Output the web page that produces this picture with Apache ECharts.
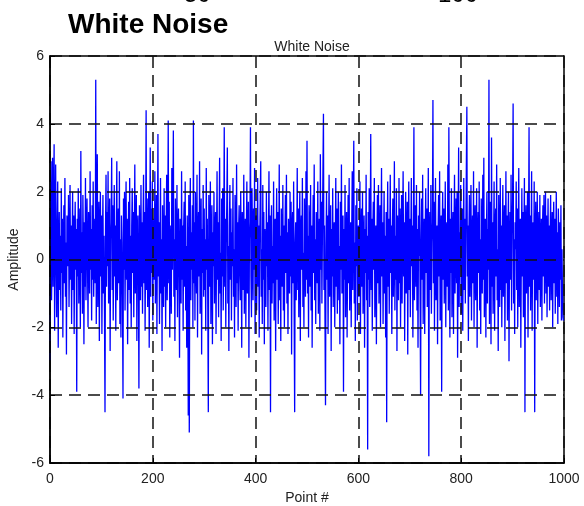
<!DOCTYPE html>
<html>
<head>
<meta charset="utf-8">
<script src="https://cdn.jsdelivr.net/npm/echarts@6/dist/echarts.min.js"></script>
<style>
  html, body { margin: 0; padding: 0; background: #fff; }
  #noise { width: 584px; height: 506px; }
</style>
</head>
<body>
<div id="noise"></div>
<script>
// amplitude of each point (points 0..999)
var amplitude = [
  -3.0, 0.6, 2.9, -1.2, 0.4, 3.0, -0.8, 1.5, 3.4, -2.1, 0.9, 2.8, -0.3, -1.7, 1.1, 2.3, -2.6, 0.2, 1.4, -0.9,
  0.7, -1.5, 2.1, -0.4, 1.2, -2.3, 0.3, 1.6, -0.7, 2.4, -1.1, 0.5, -2.8, 1.3, 0.8, -0.2, 1.9, -1.4, 0.1, 2.2,
  -0.6, 1.0, -1.9, 0.4, 2.0, -0.9, 1.3, -2.2, 0.6, 1.7, -0.3, 0.9, -3.9, 1.2, -0.5, 2.1, -1.3, 0.2, 1.5, -2.0,
  3.2, -0.4, 0.8, -1.6, 1.9, 0.3, -2.5, 1.1, -0.8, 2.4, -1.2, 0.5, 1.8, -0.1, -2.0, 1.4, 0.7, -1.0, 2.6, -0.3,
  0.9, -1.8, 1.6, -0.6, 2.3, -1.1, 0.4, 1.2, -0.7, 5.3, -1.9, 0.8, 3.1, -1.4, 0.2, 1.7, -2.4, 0.6, 2.0, -0.5,
  1.3, -2.2, 0.5, 1.9, -1.0, 0.7, -1.6, -4.5, 0.9, 2.5, -0.8, 1.4, -0.2, 2.6, -1.3, 0.3, 1.8, -2.7, 0.6, 1.1,
  3.0, -0.9, 1.6, -1.8, 0.4, 2.2, -0.5, 1.0, -2.1, 0.8, 2.9, -1.2, 0.1, 1.5, -0.7, 2.6, -1.9, 0.6, -2.3, 1.3,
  0.5, -1.1, -4.1, 1.8, -0.3, 2.0, -1.5, 0.9, 2.3, -0.6, 1.2, -2.5, 0.3, 1.7, -0.9, 2.4, -1.3, 0.7, -2.0, 1.0,
  2.1, -0.4, 1.4, -1.7, 0.6, 2.8, -1.0, 0.2, 1.9, -2.4, 0.8, 1.3, -0.5, -3.8, 1.6, 0.4, -1.2, 2.2, -0.8, 1.1,
  -1.6, 0.9, 2.5, -0.7, 1.4, -2.1, 0.3, 4.4, -0.9, 1.8, -1.4, 0.6, 2.0, -2.6, 0.2, 3.3, -1.1, 1.5, -0.4, 2.3,
  -1.8, 0.7, 1.2, -0.6, 2.6, -1.3, 0.4, 1.9, -2.2, 0.8, 3.7, -0.5, 1.1, -1.9, 0.3, 2.4, -1.0, 0.6, -2.7, 1.6,
  0.2, -1.4, 2.1, -0.8, 1.3, -2.0, 0.9, 2.5, -1.2, 0.4, 4.1, -0.7, 1.7, -2.3, 0.5, 1.0, -1.6, 2.7, -0.3, 1.4,
  3.8, -1.1, 0.6, -2.4, 1.8, 0.3, -0.9, 2.2, -1.7, 0.8, 1.5, -0.4, -2.9, 1.2, 0.7, -1.3, 2.6, -0.6, 1.0, -2.1,
  0.9, 1.7, -0.8, 2.3, -1.5, 0.4, -2.6, 1.3, 0.1, -4.6, 1.9, -5.1, 0.6, 2.4, -1.2, 0.8, -0.3, 1.6, -2.0, 4.1,
  -0.7, 1.1, -1.8, 2.0, 0.3, -1.0, 2.5, -2.3, 0.7, 1.4, -0.5, 2.9, -1.6, 0.2, 1.8, -2.8, 0.9, -0.4, 2.2, -1.1,
  1.5, -0.9, 0.6, -2.1, 2.7, -0.3, 1.2, -1.4, -4.5, 1.9, 0.5, -0.8, 2.3, -1.9, 0.4, 1.6, -2.5, 0.8, -0.2, 2.0,
  -1.3, 0.7, 1.4, -2.2, 0.3, 2.6, -0.6, 1.1, -1.7, 0.9, 3.0, -1.0, 0.2, -2.4, 1.8, -0.5, 2.1, -1.5, 0.6, 3.9,
  -0.8, 1.2, -2.0, 0.5, 1.7, 3.3, -1.3, 0.4, -2.7, 1.0, 2.2, -0.6, 1.5, -1.8, 0.8, -0.2, 2.4, -1.1, 0.3, -2.3,
  1.9, 0.6, -1.4, 2.8, -0.7, 1.1, -2.1, 0.9, 1.6, -0.4, -1.2, 2.0, 0.2, -2.6, 1.4, 0.7, -0.9, 2.5, -1.6, 0.4,
  1.2, -2.0, 0.8, 2.3, -1.0, 0.3, 1.7, -2.9, 0.6, 1.1, 3.9, -0.5, -1.7, 2.1, 0.4, -1.2, 1.5, -0.3, 2.7, -2.2,
  0.7, 1.3, -1.5, 0.2, 2.4, -0.8, 1.0, -2.3, 0.5, 1.8, 2.9, -1.1, 0.3, -1.9, 2.2, -0.6, 1.4, -2.5, 0.9, 0.1,
  -1.4, 2.0, -0.2, 1.1, -2.1, 0.6, 2.6, -0.9, 1.3, -4.5, 0.8, 1.6, -1.3, 0.4, -0.7, 2.3, -1.8, 0.9, 1.2, -2.7,
  0.5, 2.1, -0.6, 1.4, -1.9, 0.2, 2.8, -1.2, 0.7, -2.4, 1.5, 0.3, -0.8, 2.2, -1.5, 1.0, -2.0, 0.6, 1.9, -0.4,
  2.5, -1.3, 0.8, -2.2, 1.2, 0.4, -1.0, 2.0, -0.5, 1.7, -2.8, 0.9, 1.4, -0.7, 2.3, -1.6, -4.5, 0.5, 1.1, -1.2,
  0.3, 2.7, -0.9, 1.5, -1.7, 0.6, 2.0, -2.4, 0.8, 1.3, -0.3, 2.4, -1.4, 0.2, -2.0, 1.8, 0.5, -1.1, 2.6, -0.6,
  3.5, -1.0, 0.7, -2.3, 1.6, 0.4, -0.8, 2.2, -1.5, 1.0, -2.6, 0.3, 1.9, -0.4, 2.8, -1.2, 0.6, -1.9, 1.4, 0.9,
  -0.7, 2.3, -1.6, 0.5, 1.2, -2.1, 3.1, -0.3, 1.7, -1.3, 0.8, 2.6, 4.3, -0.9, 1.0, -1.8, -4.3, 0.4, 2.0, -0.6,
  1.3, -2.2, 0.7, 2.5, -1.1, 0.2, 1.6, -2.7, 0.9, -0.5, 2.1, -1.4, 0.6, 1.1, -2.0, 0.3, 2.4, -0.8, 1.5, -1.6,
  0.8, 2.0, -1.2, 0.4, -2.5, 1.7, -0.3, 2.8, -1.0, 0.6, 1.3, -3.9, 0.9, -0.6, 2.2, -1.7, 0.5, 1.4, -2.3, 0.1,
  1.9, -0.7, 2.4, -1.5, 0.3, 1.1, -2.0, 0.8, 2.6, -0.9, 1.2, 3.5, -1.3, 0.5, -2.4, 1.6, -0.2, 2.1, -1.8, 0.7,
  1.0, -1.1, 0.4, 2.3, -2.2, 0.6, 1.5, -0.8, 2.0, -1.6, 0.3, 1.3, -2.6, 0.9, -0.4, 2.5, -1.2, 0.7, -5.6, 1.4,
  -0.6, 2.1, -1.4, 0.5, 3.7, -0.9, 1.2, -2.1, 0.8, 1.7, -0.3, 2.4, -1.7, 0.2, 1.0, -2.5, 0.6, 1.9, -0.7, 2.2,
  -1.3, 0.4, 1.6, -2.0, 0.9, 2.7, -0.5, 1.1, -1.9, 0.3, 2.0, -1.0, 0.7, -2.3, 1.4, -4.8, 0.5, 2.3, -0.8, 1.2,
  -1.6, 0.6, 2.5, -0.4, 1.0, -2.2, 0.8, 1.8, -1.1, 0.2, 2.9, -1.5, 0.7, -0.6, 2.1, -2.7, 1.3, 0.4, -1.2, 2.4,
  -0.7, 1.5, -2.0, 0.3, 1.9, -1.3, 0.9, 2.6, -0.5, 1.1, -2.4, 0.6, 2.0, -1.0, 0.4, 1.7, -2.8, 0.8, 2.3, -0.9,
  1.2, -1.7, 0.5, 2.4, -0.2, 1.0, -2.3, 0.7, 3.9, -1.2, 0.3, 1.6, -0.8, 2.2, -1.5, 0.9, -2.6, 1.3, 0.1, 2.0,
  -1.1, -4.0, 0.6, 1.8, -0.6, 2.5, -1.9, 0.4, 1.2, -2.2, 0.8, 2.1, -0.4, 1.5, -1.4, 0.2, 2.7, -5.8, 0.9, 1.4,
  -0.9, 2.2, -1.6, 0.5, 1.1, 4.7, -0.7, 1.7, -2.1, 0.6, 2.4, -1.2, 0.3, 1.0, -2.5, 0.8, 1.9, -0.5, 2.6, -1.8,
  0.4, 1.3, -3.9, 0.9, 2.0, -0.6, 1.5, -1.3, 0.2, 2.3, -2.0, 0.7, 1.1, -0.8, 2.8, -1.5, 3.9, 0.5, -2.3, 1.2,
  -0.4, 2.1, -1.7, 0.6, 1.4, -2.2, 0.9, 2.5, -1.0, 0.3, 1.8, -0.7, 2.0, -2.9, 0.5, 3.3, -1.4, 0.8, -0.2, 2.2,
  -1.6, 0.7, 1.5, -2.1, 0.3, 2.4, -0.9, 1.2, -1.3, 0.6, 2.7, 4.5, -0.5, 1.0, -2.4, 0.8, 1.9, -1.1, 0.4, 2.2,
  -1.8, 0.5, 1.3, -0.7, 2.6, -2.0, 0.9, 1.6, -1.2, 0.2, 2.1, -2.6, 0.7, 1.4, -0.4, 2.3, -1.5, 0.6, -2.2, 1.8,
  0.3, -1.0, 2.5, -0.6, 3.0, -1.7, 0.8, 1.2, -2.3, 0.5, 2.0, -1.3, 0.9, -0.3, 5.3, -1.9, 0.6, 1.7, -2.5, 3.6,
  -0.8, 1.1, -1.6, 0.4, 2.3, -2.1, 0.7, 1.5, -0.5, 2.8, -1.2, 0.3, -2.7, 1.9, 0.6, -1.4, 2.4, -0.9, 1.0, -2.0,
  0.8, 2.2, -1.1, 0.5, 1.6, -2.4, 0.2, 2.6, -0.7, 1.3, -1.8, 0.9, 2.0, -3.0, 0.4, 1.4, -0.6, 2.5, -1.5, 0.7,
  1.8, 4.6, -1.3, 0.6, -2.2, 1.1, 0.3, 2.3, -0.9, 1.5, -2.0, 0.8, 2.7, -1.4, 0.5, 1.2, -2.6, 0.2, 2.1, -0.5,
  1.4, -1.7, 0.7, 2.4, -4.5, 0.9, 1.6, -1.0, 0.3, 2.0, -2.3, 0.6, 3.9, -0.8, 1.3, -1.5, 0.4, 2.6, -2.1, 0.8,
  1.1, -0.6, 2.3, -4.5, 0.5, 1.7, -1.2, 0.2, 2.0, -1.9, 0.7, 1.4, -0.9, 1.9, -1.4, 0.4, 1.2, -1.8, 0.8, 1.6,
  -0.5, 1.9, -1.3, 0.6, 2.0, -1.0, 1.3, -1.7, 0.3, 1.8, -0.8, 1.0, -1.5, 0.7, 1.9, -1.2, 0.5, 1.4, -2.0, 0.9,
  1.7, -0.7, 1.2, -1.6, 0.4, 2.0, -1.1, 0.8, -1.9, 1.5, 0.2, -1.4, 1.1, -0.6, 1.6, -1.8, 0.3, -0.9, -1.7, -1.8
];
var xTicks = [0, 200, 400, 600, 800, 1000];
var yTicks = [-6, -4, -2, 0, 2, 4, 6];

var chart = echarts.init(document.getElementById('noise'));

var points = amplitude.map(function (v, i) { return [i, v]; });
var fontFam = '"Liberation Sans", Arial, sans-serif';

var option = {
    animation: false,
    backgroundColor: '#fff',
    title: [
        {
            text: 'White Noise',
            left: 63, top: 6,
            textStyle: {fontFamily: fontFam, fontSize: 28, fontWeight: 'bold', color: '#000'}
        },
        {
            text: 'White Noise',
            left: 307, top: 35, textAlign: 'center',
            textStyle: {fontFamily: fontFam, fontSize: 14, fontWeight: 'normal', color: '#222'}
        }
    ],
    graphic: [
        // bits of the line above that are cut off by the crop
        {type: 'text', left: 184, top: -17, style: {text: '50', font: '24px ' + fontFam, fill: '#000'}},
        {type: 'text', left: 438, top: -17, style: {text: '100', font: '24px ' + fontFam, fill: '#000'}}
    ],
    grid: {
        left: 50, right: 20, top: 56, bottom: 43,
        outerBoundsMode: 'none',
        show: true, borderColor: '#000', borderWidth: 1.5
    },
    xAxis: {
        type: 'value',
        z: 5,
        min: xTicks[0], max: xTicks[xTicks.length - 1], interval: 200,
        name: 'Point #', nameLocation: 'middle', nameGap: 26,
        nameTextStyle: {fontFamily: fontFam, fontSize: 14, color: '#222'},
        axisLine: {onZero: false, lineStyle: {color: '#000', width: 1.5}},
        axisTick: {inside: true, length: 5, lineStyle: {color: '#000'}},
        axisLabel: {fontFamily: fontFam, fontSize: 14, color: '#222', margin: 9,
            formatter: function (v) { return String(v); }},
        splitLine: {show: true, lineStyle: {color: '#111', width: 1.5, type: [12, 7]}}
    },
    yAxis: {
        type: 'value',
        z: 5,
        min: yTicks[0], max: yTicks[yTicks.length - 1], interval: 2,
        name: 'Amplitude', nameLocation: 'middle', nameGap: 26,
        nameTextStyle: {fontFamily: fontFam, fontSize: 14, color: '#222'},
        axisLine: {onZero: false, lineStyle: {color: '#000', width: 1.5}},
        axisTick: {inside: true, length: 5, lineStyle: {color: '#000'}},
        axisLabel: {fontFamily: fontFam, fontSize: 14, color: '#222', margin: 6},
        splitLine: {show: true, lineStyle: {color: '#111', width: 1.5, type: [12, 7]}}
    },
    series: [
        {
            name: 'White Noise',
            type: 'line',
            data: points,
            showSymbol: false,
            sampling: null,
            lineStyle: {color: '#0000ff', width: 1.3},
            z: 1
        }
    ]
};
chart.setOption(option);
</script>
</body>
</html>
